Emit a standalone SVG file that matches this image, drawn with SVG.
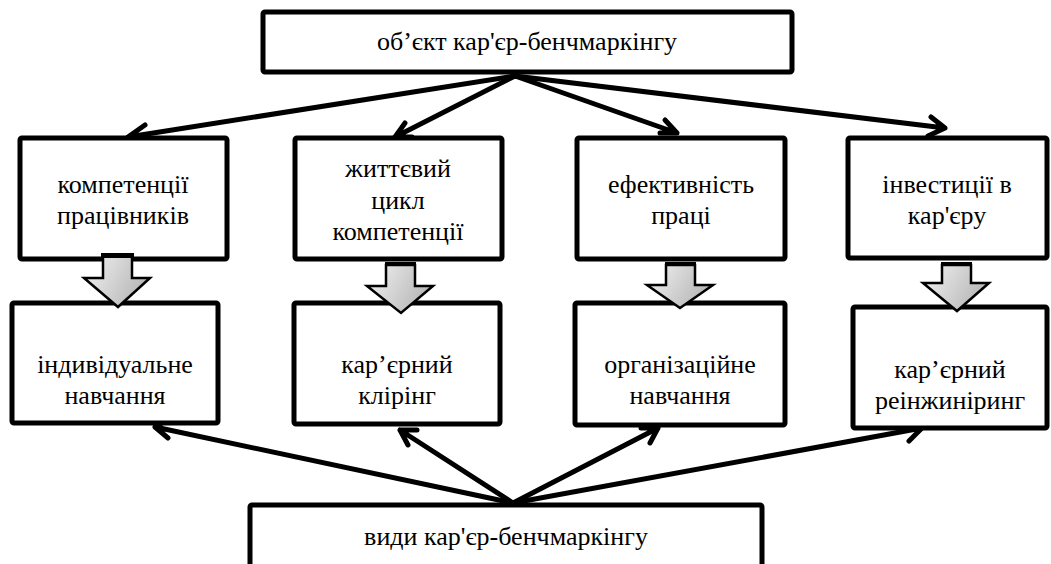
<svg xmlns="http://www.w3.org/2000/svg" width="1051" height="564" viewBox="0 0 1051 564">
<defs>
<linearGradient id="g" x1="0" y1="0" x2="1" y2="0.4">
<stop offset="0" stop-color="#f4f4f4"/>
<stop offset="1" stop-color="#b8b8b8"/>
</linearGradient>
</defs>
<g id="connectors" fill="none" stroke="#000" stroke-width="5" stroke-linecap="round" stroke-linejoin="round">
<path d="M515 76 L128 137 M145 125 L128 137 L143 147"/>
<path d="M515 76 L395 137 M405 123 L395 137 L412 137"/>
<path d="M515 76 L677 133 M660 133 L677 133 L665 120"/>
<path d="M515 76 L945 128 M928 136 L945 128 L931 117"/>
<path d="M513 503 L155 427 M170 418 L155 427 L168 438"/>
<path d="M513 503 L400 430 M417 430 L400 430 L408 445"/>
<path d="M513 503 L658 428 M650 443 L658 428 L641 428"/>
<path d="M513 503 L922 428 M909 441 L922 428 L905 421"/>
</g>
<g id="node-top"><rect x="263" y="12" width="529" height="60" rx="2" fill="#fff" stroke="#000" stroke-width="5"/><text x="527" y="50" font-family="Liberation Serif" font-size="26" text-anchor="middle">об’єкт кар'єр-бенчмаркінгу</text></g>
<g id="node-1"><rect x="20" y="138" width="207" height="121" rx="2" fill="#fff" stroke="#000" stroke-width="5"/><text x="123" y="193" font-family="Liberation Serif" font-size="26" text-anchor="middle">компетенції</text><text x="123" y="224" font-family="Liberation Serif" font-size="26" text-anchor="middle">працівників</text></g>
<g id="node-2"><rect x="295" y="138" width="207" height="121" rx="2" fill="#fff" stroke="#000" stroke-width="5"/><text x="398" y="177" font-family="Liberation Serif" font-size="26" text-anchor="middle">життєвий</text><text x="398" y="209" font-family="Liberation Serif" font-size="26" text-anchor="middle">цикл</text><text x="398" y="240" font-family="Liberation Serif" font-size="26" text-anchor="middle">компетенції</text></g>
<g id="node-3"><rect x="577" y="138" width="208" height="121" rx="2" fill="#fff" stroke="#000" stroke-width="5"/><text x="681" y="193" font-family="Liberation Serif" font-size="26" text-anchor="middle">ефективність</text><text x="681" y="224" font-family="Liberation Serif" font-size="26" text-anchor="middle">праці</text></g>
<g id="node-4"><rect x="848" y="138" width="199" height="120" rx="2" fill="#fff" stroke="#000" stroke-width="5"/><text x="947" y="193" font-family="Liberation Serif" font-size="26" text-anchor="middle">інвестиції в</text><text x="947" y="224" font-family="Liberation Serif" font-size="26" text-anchor="middle">кар'єру</text></g>
<g id="node-5"><rect x="12" y="303" width="206" height="120" rx="2" fill="#fff" stroke="#000" stroke-width="5"/><text x="115" y="373" font-family="Liberation Serif" font-size="26" text-anchor="middle">індивідуальне</text><text x="115" y="404" font-family="Liberation Serif" font-size="26" text-anchor="middle">навчання</text></g>
<g id="node-6"><rect x="294" y="303" width="206" height="121" rx="2" fill="#fff" stroke="#000" stroke-width="5"/><text x="397" y="373" font-family="Liberation Serif" font-size="26" text-anchor="middle">кар’єрний</text><text x="397" y="404" font-family="Liberation Serif" font-size="26" text-anchor="middle">клірінг</text></g>
<g id="node-7"><rect x="575" y="303" width="210" height="122" rx="2" fill="#fff" stroke="#000" stroke-width="5"/><text x="680" y="373" font-family="Liberation Serif" font-size="26" text-anchor="middle">організаційне</text><text x="680" y="404" font-family="Liberation Serif" font-size="26" text-anchor="middle">навчання</text></g>
<g id="node-8"><rect x="853" y="307" width="194" height="121" rx="2" fill="#fff" stroke="#000" stroke-width="5"/><text x="950" y="378" font-family="Liberation Serif" font-size="26" text-anchor="middle">кар’єрний</text><text x="950" y="409" font-family="Liberation Serif" font-size="26" text-anchor="middle">реінжиніринг</text></g>
<g id="node-bottom"><rect x="250" y="505" width="512" height="70" rx="2" fill="#fff" stroke="#000" stroke-width="5"/><text x="506" y="545" font-family="Liberation Serif" font-size="26" text-anchor="middle">види кар'єр-бенчмаркінгу</text></g>
<g id="block-arrows">
<g fill="url(#g)" stroke="#000" stroke-width="2.5">
<path d="M103 256 L132 256 L132 278 L150 278 L118 307 L84 278 L103 278 Z"/>
<path d="M386 265 L415 265 L415 286 L433 286 L401 313 L367 286 L386 286 Z"/>
<path d="M666 265 L695 265 L695 285 L713 285 L680 308 L647 285 L666 285 Z"/>
<path d="M942 265 L971 265 L971 283 L989 283 L957 311 L923 283 L942 283 Z"/>
</g>
<g fill="#000">
<rect x="101" y="253" width="33" height="5"/>
<rect x="385" y="262" width="31" height="4"/>
<rect x="665" y="262" width="31" height="4"/>
<rect x="941" y="262" width="31" height="4"/>
</g>
</g>
</svg>
